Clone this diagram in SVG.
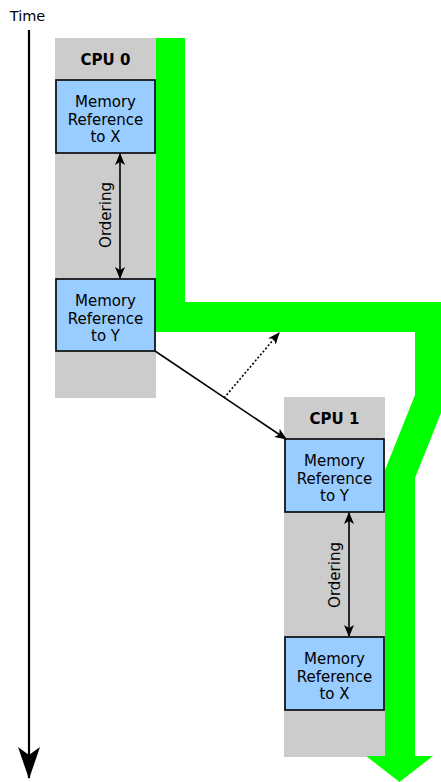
<svg xmlns="http://www.w3.org/2000/svg" width="441" height="782" viewBox="0 0 441 782">
<style>
.cpu{fill:#cccccc}
.mem rect{fill:#99ccff;stroke:#000;stroke-width:1.6}
.t{font-family:"DejaVu Sans",sans-serif;font-size:15px;fill:#000;text-anchor:middle}
.b{font-weight:bold;font-size:15px}
.ln{stroke:#000;stroke-width:1.6;fill:none}
</style>
<defs>
<marker id="ah" viewBox="0 0 12 10" refX="11" refY="5" markerWidth="12" markerHeight="10" markerUnits="userSpaceOnUse" orient="auto-start-reverse">
<path d="M0,0 L12,5 L0,10 L3,5 Z" fill="#000"/>
</marker>
<marker id="big" viewBox="0 0 32 22" refX="31" refY="11" markerWidth="32" markerHeight="22" markerUnits="userSpaceOnUse" orient="auto">
<path d="M0,0 L32,11 L0,22 L8,11 Z" fill="#000"/>
</marker>
</defs>
<text class="t" x="27.5" y="20.5" style="font-size:14.5px">Time</text>
<g id="cpu0">
<rect class="cpu" x="55" y="38" width="101" height="360"/>
<text class="t b" x="105.5" y="65">CPU 0</text>
</g>
<g id="cpu1">
<rect class="cpu" x="284" y="397" width="101" height="360"/>
<text class="t b" x="334.5" y="424">CPU 1</text>
</g>
<g id="flow">
<polygon fill="#00ff00" points="156,38 185,38 185,302 443,302 443,408 415,478 415,756 433,756 399.5,782 366,756 385,756 385,470 415,395 415,332 156,332"/>
</g>
<g id="mx0" class="mem">
<rect x="56" y="80" width="99" height="73"/>
<text class="t" x="105.5" y="106.5">Memory</text>
<text class="t" x="105.5" y="124.5">Reference</text>
<text class="t" x="105.5" y="142">to X</text>
</g>
<g id="my0" class="mem">
<rect x="56" y="279" width="99" height="72"/>
<text class="t" x="105.5" y="305.5">Memory</text>
<text class="t" x="105.5" y="323.5">Reference</text>
<text class="t" x="105.5" y="341">to Y</text>
</g>
<g id="my1" class="mem">
<rect x="285" y="439" width="99" height="73"/>
<text class="t" x="334.5" y="465.5">Memory</text>
<text class="t" x="334.5" y="483.5">Reference</text>
<text class="t" x="334.5" y="501">to Y</text>
</g>
<g id="mx1" class="mem">
<rect x="285" y="637" width="99" height="73"/>
<text class="t" x="334.5" y="663.5">Memory</text>
<text class="t" x="334.5" y="681.5">Reference</text>
<text class="t" x="334.5" y="699">to X</text>
</g>
<g id="connectors">
<line class="ln" x1="29" y1="30" x2="29" y2="778" style="stroke-width:2.2" marker-end="url(#big)"/>
<line class="ln" x1="120" y1="154" x2="120" y2="278" marker-start="url(#ah)" marker-end="url(#ah)"/>
<line class="ln" x1="349" y1="513" x2="349" y2="636" marker-start="url(#ah)" marker-end="url(#ah)"/>
<line class="ln" x1="155" y1="351" x2="286" y2="439" marker-end="url(#ah)"/>
<line class="ln" x1="224" y1="398" x2="279" y2="333" style="stroke-dasharray:2,2" marker-end="url(#ah)"/>
</g>
<text class="t" transform="translate(110.5,215) rotate(-90)">Ordering</text>
<text class="t" transform="translate(339.5,575) rotate(-90)">Ordering</text>
</svg>
